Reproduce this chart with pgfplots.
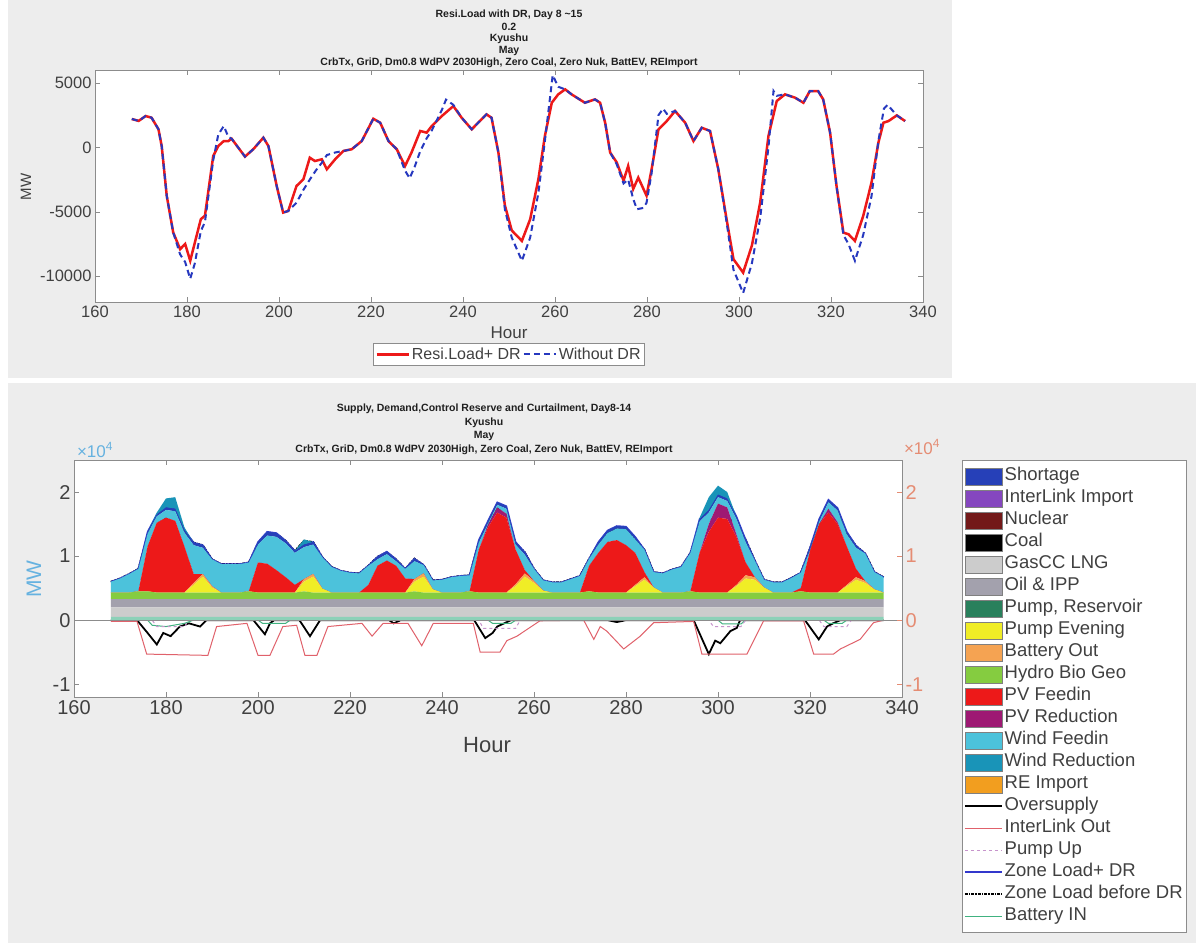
\documentclass[border=0pt]{standalone}
\usepackage{pgfplots}
\pgfplotsset{compat=1.18}
\usepackage{pgfplotstable}
\usepackage{fontspec}
\setmainfont{Liberation Sans}

\definecolor{panel}{rgb}{0.93,0.93,0.93}
\definecolor{axgray}{rgb}{0.55,0.55,0.55}
\definecolor{txtgray}{rgb}{0.25,0.25,0.25}
\definecolor{ttl}{rgb}{0.12,0.12,0.12}
\definecolor{lblue}{rgb}{0.40,0.70,0.88}
\definecolor{salmon}{rgb}{0.90,0.55,0.45}
\definecolor{cRes}{rgb}{0.55,0.82,0.72}
\definecolor{cResL}{rgb}{0.16,0.50,0.36}
\definecolor{cGas}{rgb}{0.80,0.80,0.80}
\definecolor{cOil}{rgb}{0.64,0.63,0.68}
\definecolor{cHyd}{rgb}{0.52,0.80,0.25}
\definecolor{cPev}{rgb}{0.94,0.93,0.15}
\definecolor{cBat}{rgb}{0.96,0.64,0.32}
\definecolor{cPV}{rgb}{0.93,0.10,0.10}
\definecolor{cPVR}{rgb}{0.62,0.10,0.45}
\definecolor{cWind}{rgb}{0.30,0.76,0.86}
\definecolor{cShort}{rgb}{0.15,0.25,0.72}
\definecolor{cWred}{rgb}{0.10,0.58,0.72}
\definecolor{cIL}{rgb}{0.52,0.28,0.75}
\definecolor{cNuc}{rgb}{0.45,0.10,0.10}
\definecolor{cRE}{rgb}{0.95,0.62,0.12}
\definecolor{cILout}{rgb}{0.88,0.38,0.42}
\definecolor{cPup}{rgb}{0.78,0.58,0.80}
\definecolor{cBin}{rgb}{0.25,0.70,0.50}
\definecolor{cLoad}{rgb}{0.20,0.22,0.80}
\definecolor{cRed}{rgb}{0.93,0.10,0.10}
\definecolor{cBlue}{rgb}{0.15,0.22,0.75}

\pgfplotsset{
  swatch/.style={legend image code/.code={\filldraw[##1,draw=gray] (0pt,-8.5pt) rectangle (37pt,8.5pt);}},
  lswatch/.style={legend image code/.code={\draw[##1] (0pt,0pt) -- (37pt,0pt);}},
}

\pgfplotstableread{
h res gas oil hyd pev bat pv pvr wind short wred ldr lb
168 0.05 0.15 0.13 0.10 0 0 0 0 0.17 0 0 0.60 0.60
170 0.05 0.15 0.13 0.10 0 0 0 0 0.22 0 0 0.65 0.65
172 0.05 0.15 0.13 0.10 0 0 0 0 0.29 0 0 0.72 0.72
174 0.05 0.15 0.13 0.12 0 0 0 0 0.35 0 0 0.80 0.80
176 0.05 0.15 0.13 0.12 0 0 0.70 0 0.20 0.03 0 1.38 1.33
178 0.05 0.15 0.13 0.10 0 0 1.09 0 0.10 0.03 0.03 1.65 1.55
180 0.05 0.15 0.13 0.10 0 0 1.17 0 0.12 0.04 0.14 1.76 1.60
182 0.05 0.15 0.13 0.10 0 0 1.12 0 0.15 0.04 0.18 1.74 1.60
184 0.05 0.15 0.13 0.10 0 0 0.72 0 0.22 0.04 0.04 1.41 1.38
186 0.05 0.15 0.13 0.10 0.12 0.03 0.14 0 0.45 0.04 0 1.21 1.21
188 0.05 0.15 0.13 0.10 0.25 0.04 0 0 0.41 0.04 0 1.17 1.17
190 0.05 0.15 0.13 0.10 0.08 0.02 0 0 0.42 0 0 0.95 0.95
192 0.05 0.15 0.13 0.10 0 0 0 0 0.445 0 0 0.875 0.875
194 0.05 0.15 0.13 0.10 0 0 0 0 0.445 0 0 0.875 0.875
196 0.05 0.15 0.13 0.10 0 0 0 0 0.445 0 0 0.875 0.875
198 0.05 0.15 0.13 0.12 0 0 0 0 0.45 0 0 0.90 0.90
200 0.05 0.15 0.13 0.10 0 0 0.47 0 0.28 0.04 0 1.22 1.20
202 0.05 0.15 0.13 0.10 0 0 0.45 0 0.44 0.06 0 1.38 1.36
204 0.05 0.15 0.13 0.10 0 0 0.35 0 0.52 0.06 0 1.36 1.35
206 0.05 0.15 0.13 0.10 0 0 0.24 0 0.53 0.04 0 1.24 1.24
208 0.05 0.15 0.13 0.10 0 0 0.12 0 0.50 0.03 0 1.08 1.08
210 0.05 0.15 0.13 0.12 0.15 0.04 0 0 0.50 0.04 0.08 1.18 1.24
212 0.05 0.15 0.13 0.10 0.25 0.04 0 0 0.46 0.04 0 1.22 1.22
214 0.05 0.15 0.13 0.10 0.06 0 0 0 0.49 0 0 0.98 0.98
216 0.05 0.15 0.13 0.10 0 0 0 0 0.40 0 0 0.83 0.83
218 0.05 0.15 0.13 0.10 0 0 0 0 0.34 0 0 0.77 0.77
220 0.05 0.15 0.13 0.10 0 0 0 0 0.31 0 0 0.74 0.74
222 0.05 0.15 0.13 0.10 0 0 0 0 0.30 0 0 0.73 0.73
224 0.05 0.15 0.13 0.10 0 0 0.12 0 0.30 0 0 0.85 0.85
226 0.05 0.15 0.13 0.10 0 0 0.42 0 0.10 0.04 0 0.99 0.99
228 0.05 0.15 0.13 0.10 0 0 0.50 0 0.10 0.04 0 1.07 1.06
230 0.05 0.15 0.13 0.10 0 0 0.42 0 0.07 0.03 0 0.95 0.95
232 0.05 0.15 0.13 0.10 0 0 0.22 0 0.15 0 0 0.80 0.80
234 0.05 0.15 0.13 0.12 0.15 0.04 0 0 0.28 0.04 0 0.96 0.96
236 0.05 0.15 0.13 0.10 0.25 0.05 0 0 0.13 0 0 0.86 0.86
238 0.05 0.15 0.13 0.10 0.05 0 0 0 0.14 0 0 0.62 0.62
240 0.05 0.15 0.13 0.10 0 0 0 0 0.20 0 0 0.63 0.63
242 0.05 0.15 0.13 0.10 0 0 0 0 0.24 0 0 0.67 0.67
244 0.05 0.15 0.13 0.10 0 0 0 0 0.26 0 0 0.69 0.69
246 0.05 0.15 0.13 0.12 0 0 0 0 0.25 0 0 0.70 0.70
248 0.05 0.15 0.13 0.10 0 0 0.67 0 0.11 0.04 0 1.25 1.22
250 0.05 0.15 0.13 0.10 0 0 1.02 0.04 0.02 0.04 0 1.55 1.50
252 0.05 0.15 0.13 0.10 0 0 1.25 0.08 0.04 0.04 0 1.84 1.76
254 0.05 0.15 0.13 0.10 0 0 1.17 0.06 0.08 0.04 0 1.78 1.70
256 0.05 0.15 0.13 0.10 0.10 0.03 0.54 0 0.08 0.04 0 1.22 1.20
258 0.05 0.15 0.13 0.10 0.25 0.05 0.05 0 0.24 0.04 0 1.06 1.06
260 0.05 0.15 0.13 0.10 0.15 0.03 0 0 0.19 0 0 0.80 0.80
262 0.05 0.15 0.13 0.10 0.03 0 0 0 0.16 0 0 0.62 0.62
264 0.05 0.15 0.13 0.10 0 0 0 0 0.16 0 0 0.59 0.59
266 0.05 0.15 0.13 0.10 0 0 0 0 0.16 0 0 0.59 0.59
268 0.05 0.15 0.13 0.10 0 0 0 0 0.21 0 0 0.64 0.64
270 0.05 0.15 0.13 0.10 0 0 0 0 0.26 0 0 0.69 0.69
272 0.05 0.15 0.13 0.12 0 0 0.40 0 0.11 0 0 0.96 0.96
274 0.05 0.15 0.13 0.10 0 0 0.62 0 0.13 0.04 0 1.22 1.20
276 0.05 0.15 0.13 0.10 0 0 0.79 0 0.14 0.04 0 1.40 1.37
278 0.05 0.15 0.13 0.10 0 0 0.82 0 0.18 0.04 0 1.47 1.43
280 0.05 0.15 0.13 0.10 0 0 0.74 0 0.25 0.04 0 1.46 1.42
282 0.05 0.15 0.13 0.10 0.10 0.02 0.50 0 0.21 0.04 0 1.30 1.28
284 0.05 0.15 0.13 0.10 0.20 0.04 0.08 0 0.35 0 0 1.10 1.10
286 0.05 0.15 0.13 0.10 0.08 0 0 0 0.24 0 0 0.75 0.75
288 0.05 0.15 0.13 0.10 0 0 0 0 0.30 0 0 0.73 0.73
290 0.05 0.15 0.13 0.10 0 0 0 0 0.36 0 0 0.79 0.79
292 0.05 0.15 0.13 0.10 0 0 0 0 0.40 0 0 0.83 0.83
294 0.05 0.15 0.13 0.12 0 0 0 0 0.60 0 0 1.05 1.05
296 0.05 0.15 0.13 0.10 0 0 0.62 0 0.49 0.04 0.02 1.58 1.50
298 0.05 0.15 0.13 0.10 0 0 0.95 0.12 0.18 0.04 0.20 1.72 1.55
300 0.05 0.15 0.13 0.10 0 0 1.17 0.22 0.10 0.04 0.14 1.96 1.65
302 0.05 0.15 0.13 0.10 0 0 1.15 0.18 0.10 0.04 0.10 1.90 1.62
304 0.05 0.15 0.13 0.10 0.10 0.02 0.75 0.04 0.24 0.04 0 1.62 1.50
306 0.05 0.15 0.13 0.10 0.22 0.05 0.20 0 0.32 0.04 0 1.26 1.26
308 0.05 0.15 0.13 0.10 0.20 0.04 0 0 0.26 0 0 0.93 0.93
310 0.05 0.15 0.13 0.10 0.08 0 0 0 0.12 0 0 0.63 0.63
312 0.05 0.15 0.13 0.10 0 0 0 0 0.16 0 0 0.59 0.59
314 0.05 0.15 0.13 0.10 0 0 0 0 0.16 0 0 0.59 0.59
316 0.05 0.15 0.13 0.10 0 0 0 0 0.23 0 0 0.66 0.66
318 0.05 0.15 0.13 0.12 0 0 0.05 0 0.24 0 0 0.74 0.74
320 0.05 0.15 0.13 0.10 0 0 0.65 0 0.01 0.04 0 1.13 1.12
322 0.05 0.15 0.13 0.10 0 0 1.07 0 0.04 0.04 0 1.58 1.52
324 0.05 0.15 0.13 0.10 0 0 1.25 0.06 0.10 0.04 0 1.88 1.78
326 0.05 0.15 0.13 0.10 0 0 1.07 0.03 0.18 0.04 0 1.75 1.68
328 0.05 0.15 0.13 0.10 0.10 0.02 0.60 0 0.19 0.04 0 1.38 1.36
330 0.05 0.15 0.13 0.10 0.20 0.04 0.13 0 0.33 0.03 0 1.16 1.16
332 0.05 0.15 0.13 0.10 0.15 0.03 0 0 0.43 0 0 1.04 1.04
334 0.05 0.15 0.13 0.10 0.05 0 0 0 0.27 0 0 0.75 0.75
336 0.05 0.15 0.13 0.10 0 0 0 0 0.24 0 0 0.67 0.67
}\stackdata

\begin{document}
\begin{tikzpicture}
\useasboundingbox (0pt,0pt) rectangle (1196pt,-943pt);
\fill[white] (0pt,0pt) rectangle (1196pt,-943pt);
\fill[panel] (8pt,0pt) rectangle (952pt,-378pt);
\fill[panel] (8pt,-383pt) rectangle (1196pt,-943pt);

% ---------------- top chart ----------------
\begin{axis}[
  at={(95pt,-302pt)}, anchor=south west, scale only axis,
  width=828pt, height=232pt,
  xmin=160, xmax=340, ymin=-12000, ymax=6000,
  xtick={160,180,...,340}, ytick={-10000,-5000,0,5000},
  tick align=inside, major tick length=5pt,
  axis line style={draw=axgray}, tick style={draw=axgray},
  ticklabel style={font=\fontsize{16.5}{16.5}\selectfont, text=txtgray},
  /pgf/number format/assume math mode=true, /pgf/number format/1000 sep={},
  scaled y ticks=false,
  axis background/.style={fill=white},
  legend columns=2,
  legend image code/.code={\draw[#1] (0pt,0pt) -- (32pt,0pt);},
  legend style={at={(0.5,-0.177)}, anchor=north, draw=axgray, fill=white,
    font=\fontsize{16}{16}\selectfont, text=txtgray, inner sep=2pt,
    nodes={inner xsep=2pt, inner ysep=2.5pt}},
]
\addplot[cRed, line width=2.5pt] coordinates {
(168,2200)(169.5,2050)(171,2430)(172.3,2300)(173.8,1400)(174.5,100)(175.6,-3770)(177,-6600)
(178.5,-7900)(179.6,-7500)(180.7,-8800)(181.7,-7400)(183,-5580)(183.9,-5300)(185.7,-670)(186.8,100)
(188,490)(189,490)(189.7,670)(192.6,-720)(194.4,-150)(196.6,750)(197.7,100)(199.5,-3000)
(200.9,-5060)(202,-4940)(203.8,-3000)(205.3,-2480)(206.7,-800)(207.8,-1060)(209.3,-930)(210.4,-1700)
(212.2,-930)(214,-280)(215.8,-150)(218,490)(220.5,2220)(222,1910)(223.8,490)(225.6,-150)
(227.4,-1450)(228.8,-410)(230.7,1270)(232.1,1140)(233.2,1650)(235.4,2430)(237.9,3200)(239.7,2300)
(241.9,1400)(243.3,1910)(245.1,2560)(246.2,2300)(247.7,-410)(249.1,-4500)(250.6,-6450)(252.8,-7260)
(254.6,-5580)(256.4,-2450)(257.8,880)(259.3,3460)(260.7,4110)(262.2,4500)(263.6,4110)(266.5,3460)
(268.7,3720)(269.8,3460)(270.9,1910)(272,-410)(273.4,-1160)(274.9,-2580)(275.9,-1450)(277,-3230)
(278.1,-2350)(279.9,-3750)(281,-1700)(282.5,1400)(284.3,2040)(286.1,2820)(288.3,1910)(290.1,490)
(291.9,1520)(293.7,1270)(295.5,-1700)(297.3,-5580)(298.8,-8680)(300.9,-9720)(302.8,-7620)(304.6,-4290)
(306.4,880)(308.2,3590)(310,4110)(312.2,3850)(314,3460)(315.4,4370)(317.2,4370)(318.3,3720)
(319.8,1140)(321.2,-3000)(322.7,-6620)(323.8,-6740)(325.2,-7260)(327,-5320)(328.8,-2740)(330.3,360)
(331.4,1910)(332.5,2040)(334.3,2480)(336.1,2040)};
\addlegendentry{Resi.Load+ DR}
\addplot[cBlue, line width=2pt, dash pattern=on 6pt off 4pt] coordinates {
(168,2200)(169.5,2050)(171,2430)(172.3,2300)(173.8,1400)(174.5,100)(175.6,-3770)(177,-6600)
(178.5,-8300)(179.6,-8900)(180.7,-10200)(181.7,-9000)(183,-6500)(183.9,-5800)(185.7,-1000)(186.8,1000)
(188,1650)(189,800)(189.7,670)(192.6,-720)(194.4,-150)(196.6,750)(197.7,100)(199.5,-3000)
(200.9,-5060)(202,-4940)(203.8,-4300)(205.3,-3300)(206.7,-2500)(208,-1800)(209.3,-1200)(210.4,-600)
(212.2,-400)(214,-280)(215.8,-150)(218,490)(220.5,2220)(222,1910)(223.8,490)(225.6,-150)
(227.4,-1800)(228.4,-2400)(229.5,-1500)(230.7,-300)(232.1,700)(233.2,1300)(235.4,2900)(236.3,3700)
(237.9,3300)(239.7,2300)(241.9,1400)(243.3,1910)(245.1,2560)(246.2,2300)(247.7,-410)(249.1,-4800)
(250.6,-7000)(252.8,-8800)(254.6,-7000)(256.4,-3500)(257.8,500)(259.5,5600)(260.7,4700)(262.2,4500)
(263.6,4110)(266.5,3460)(268.7,3720)(269.8,3460)(270.9,1910)(272,-410)(273.4,-1300)(274.9,-2800)
(275.9,-2500)(277,-4000)(277.8,-4800)(279.2,-4700)(279.9,-4300)(281,-2000)(282.5,2500)(283.5,3000)
(284.3,2600)(286.1,2820)(288.3,1910)(290.1,490)(291.9,1520)(293.7,1270)(295.5,-1700)(297.3,-5800)
(298.8,-9500)(300.9,-11300)(302.8,-9000)(304.6,-5500)(306.4,0)(307.5,4370)(308.2,4000)(310,4110)
(312.2,3850)(314,3460)(315.4,4370)(317.2,4370)(318.3,3720)(319.8,1140)(321.2,-3000)(322.7,-6800)
(323.8,-7500)(325.2,-8800)(327,-6800)(328.8,-3800)(330.3,500)(331.5,3000)(332.3,3300)(334.3,2480)
(336.1,2040)};
\addlegendentry{Without DR}
\end{axis}

\begin{scope}[font=\fontsize{10.5}{12}\selectfont\bfseries, text=ttl]
\node at (509pt,-15pt) {Resi.Load with DR, Day 8 \textasciitilde15};
\node at (509pt,-27pt) {0.2};
\node at (509pt,-39pt) {Kyushu};
\node at (509pt,-51pt) {May};
\node at (509pt,-63pt) {CrbTx, GriD, Dm0.8 WdPV 2030High, Zero Coal, Zero Nuk, BattEV, REImport};
\end{scope}
\node[font=\fontsize{17}{17}\selectfont, text=txtgray] at (509pt,-333pt) {Hour};
\node[font=\fontsize{15}{15}\selectfont, text=txtgray, rotate=90] at (26pt,-187pt) {MW};

% ---------------- bottom chart ----------------
\begin{axis}[
  at={(74pt,-697pt)}, anchor=south west, scale only axis,
  width=828pt, height=237pt,
  xmin=160, xmax=340, ymin=-1.2, ymax=2.5,
  xtick={160,180,...,340}, ytick={-1,0,1,2}, ytick pos=left,
  tick align=inside, major tick length=5pt,
  axis line style={draw=axgray}, tick style={draw=axgray},
  ticklabel style={font=\fontsize{20}{20}\selectfont, text=txtgray},
  /pgf/number format/assume math mode=true,
  axis background/.style={fill=white},
  stack plots=y,
  legend cell align=left,
  legend style={at={(1.0725,1.0)}, anchor=north west, draw=axgray, fill=white,
    font=\fontsize{18.5}{18.5}\selectfont, text=txtgray, inner xsep=2pt, inner ysep=5pt,
    row sep=0pt,
    nodes={text height=13pt, text depth=4pt, inner ysep=2.5pt, inner xsep=2pt}},
]
\addlegendimage{swatch, fill=cShort}\addlegendentry{Shortage}
\addlegendimage{swatch, fill=cIL}\addlegendentry{InterLink Import}
\addlegendimage{swatch, fill=cNuc}\addlegendentry{Nuclear}
\addlegendimage{swatch, fill=black}\addlegendentry{Coal}
\addlegendimage{swatch, fill=cGas}\addlegendentry{GasCC LNG}
\addlegendimage{swatch, fill=cOil}\addlegendentry{Oil \& IPP}
\addlegendimage{swatch, fill=cResL}\addlegendentry{Pump, Reservoir}
\addlegendimage{swatch, fill=cPev}\addlegendentry{Pump Evening}
\addlegendimage{swatch, fill=cBat}\addlegendentry{Battery Out}
\addlegendimage{swatch, fill=cHyd}\addlegendentry{Hydro Bio Geo}
\addlegendimage{swatch, fill=cPV}\addlegendentry{PV Feedin}
\addlegendimage{swatch, fill=cPVR}\addlegendentry{PV Reduction}
\addlegendimage{swatch, fill=cWind}\addlegendentry{Wind Feedin}
\addlegendimage{swatch, fill=cWred}\addlegendentry{Wind Reduction}
\addlegendimage{swatch, fill=cRE}\addlegendentry{RE Import}
\addlegendimage{lswatch, black, line width=1.5pt}\addlegendentry{Oversupply}
\addlegendimage{lswatch, cILout, line width=1.2pt}\addlegendentry{InterLink Out}
\addlegendimage{lswatch, cPup, line width=1.2pt, dashed}\addlegendentry{Pump Up}
\addlegendimage{lswatch, cLoad, line width=1.5pt}\addlegendentry{Zone Load+ DR}
\addlegendimage{lswatch, black, line width=1.5pt, densely dashdotted}\addlegendentry{Zone Load before DR}
\addlegendimage{lswatch, cBin, line width=1.2pt}\addlegendentry{Battery IN}

\draw[axgray] (axis cs:160,0) -- (axis cs:340,0);

\addplot[fill=cRes, draw=none, forget plot] table[x=h,y=res] {\stackdata} \closedcycle;
\addplot[fill=cGas, draw=none, forget plot] table[x=h,y=gas] {\stackdata} \closedcycle;
\addplot[fill=cOil, draw=none, forget plot] table[x=h,y=oil] {\stackdata} \closedcycle;
\addplot[fill=cHyd, draw=none, forget plot] table[x=h,y=hyd] {\stackdata} \closedcycle;
\addplot[fill=cPev, draw=none, forget plot] table[x=h,y=pev] {\stackdata} \closedcycle;
\addplot[fill=cBat, draw=none, forget plot] table[x=h,y=bat] {\stackdata} \closedcycle;
\addplot[fill=cPV, draw=none, forget plot] table[x=h,y=pv] {\stackdata} \closedcycle;
\addplot[fill=cPVR, draw=none, forget plot] table[x=h,y=pvr] {\stackdata} \closedcycle;
\addplot[fill=cWind, draw=none, forget plot] table[x=h,y=wind] {\stackdata} \closedcycle;
\addplot[fill=cShort, draw=none, forget plot] table[x=h,y=short] {\stackdata} \closedcycle;
\addplot[fill=cWred, draw=none, forget plot] table[x=h,y=wred] {\stackdata} \closedcycle;

\addplot[stack plots=false, forget plot, cLoad, line width=1.5pt] table[x=h,y=ldr] {\stackdata};
\addplot[stack plots=false, forget plot, black, line width=1.8pt, densely dashdotted] table[x=h,y=lb] {\stackdata};

\addplot[stack plots=false, forget plot, cILout, line width=1pt] coordinates {
(168,-0.02)(173.7,-0.02)(175.8,-0.53)(189.1,-0.55)(191,-0.1)(197.6,-0.05)(200,-0.55)(202.6,-0.55)
(205.4,-0.1)(208.4,-0.08)(210.2,-0.55)(212.8,-0.55)(215.2,-0.1)(222.6,-0.05)(224.8,-0.25)(227.2,-0.05)
(232.6,-0.05)(235.6,-0.4)(238.1,-0.05)(246.8,-0.05)(248.3,-0.5)(252.6,-0.5)(254.1,-0.32)(256.3,-0.25)
(261.3,-0.01)(270.8,0)(273,-0.3)(274.4,-0.1)(275.8,-0.17)(279.5,-0.45)(283.1,-0.25)(286,-0.04)
(294.7,-0.02)(296.5,-0.53)(306.3,-0.53)(309.9,-0.01)(318.6,-0.01)(320.8,-0.53)(325.1,-0.53)(326.6,-0.45)
(330.9,-0.3)(333.8,-0.04)(336,0)};
\addplot[stack plots=false, forget plot, cPup, line width=1pt, dashed] coordinates {
(168,0)(177,0)(178,-0.1)(184,-0.1)(185,0)(248,0)(249,-0.13)(256,-0.13)(257,0)(298,0)(299,-0.1)
(305,-0.1)(306,0)(322,0)(323,-0.1)(328,-0.1)(329,0)(336,0)};
\addplot[stack plots=false, forget plot, cBin, line width=1pt] coordinates {
(168,0)(176,0)(177,-0.08)(180,-0.1)(184,-0.05)(186,0)(200,0)(201,-0.05)(206,-0.05)(207,0)(250,0)
(251,-0.05)(255,-0.05)(256,0)(300,0)(301,-0.06)(305,-0.06)(306,0)(323,0)(324,-0.05)(327,-0.05)(328,0)(336,0)};
\addplot[stack plots=false, forget plot, black, line width=1.8pt] coordinates {
(168,0)(173.7,0)(176,-0.2)(178,-0.38)(179.4,-0.2)(181,-0.25)(183,-0.1)(185,-0.05)(187.4,-0.1)(188.8,0)
(199,0)(201.5,-0.22)(202.6,-0.05)(203.5,0)(209,0)(211.3,-0.25)(213.5,0)(228.5,0)(229.5,-0.05)(231,0)
(247,0)(249.4,-0.28)(251,-0.2)(252,-0.1)(253.5,-0.05)(255,0)(276,0)(278,-0.03)(280,0)(294.7,0)
(298,-0.53)(299.4,-0.32)(300.5,-0.36)(302.7,-0.17)(304.1,-0.12)(304.8,0)(318.9,0)(321.9,-0.3)
(323.7,-0.1)(325,-0.05)(326.6,0)(336,0)};
\end{axis}

\begin{axis}[
  at={(74pt,-697pt)}, anchor=south west, scale only axis,
  width=828pt, height=237pt,
  xmin=160, xmax=340, ymin=-1.2, ymax=2.5,
  axis x line=none, axis y line*=right, ytick={-1,0,1,2},
  tick align=inside, major tick length=5pt,
  axis line style={draw=axgray}, tick style={draw=salmon},
  ticklabel style={font=\fontsize{20}{20}\selectfont, text=salmon},
  /pgf/number format/assume math mode=true,
]
\addplot[draw=none] coordinates {(200,0)};
\end{axis}

\begin{scope}[font=\fontsize{10.5}{12}\selectfont\bfseries, text=ttl]
\node at (484pt,-409pt) {Supply, Demand,Control Reserve and Curtailment, Day8-14};
\node at (484pt,-422.5pt) {Kyushu};
\node at (484pt,-436pt) {May};
\node at (484pt,-449.5pt) {CrbTx, GriD, Dm0.8 WdPV 2030High, Zero Coal, Zero Nuk, BattEV, REImport};
\end{scope}
\node[font=\fontsize{17}{17}\selectfont, text=lblue] at (95pt,-450pt) {×10\textsuperscript{4}};
\node[font=\fontsize{17}{17}\selectfont, text=salmon] at (922pt,-447pt) {×10\textsuperscript{4}};
\node[font=\fontsize{22}{22}\selectfont, text=txtgray] at (487pt,-745pt) {Hour};
\node[font=\fontsize{21}{21}\selectfont, text=lblue, rotate=90] at (34pt,-579pt) {MW};
\end{tikzpicture}
\end{document}
